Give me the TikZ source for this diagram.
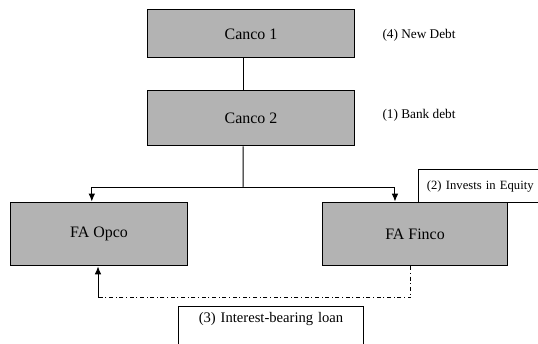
\documentclass[tikz,border=0pt]{standalone}
\usepackage{fontspec}
\setmainfont{Liberation Serif}
\usetikzlibrary{arrows.meta}
\begin{document}
\begin{tikzpicture}[line width=0.75pt]
  % Définir les couleurs et les styles
  \definecolor{boxgray}{RGB}{179,179,179}
  \tikzset{
    entity/.style={draw=black, fill=boxgray, font=\fontsize{12}{14}\selectfont},
    note/.style={font=\fontsize{10}{12}\selectfont, anchor=west, inner sep=0pt},
    flow/.style={-{Latex[length=6pt,width=5pt]}},
  }
  \useasboundingbox (0,0) rectangle (14.234,9.075);

  % Les deux sociétés Canco
  \node[entity, minimum width=5.50cm, minimum height=1.27cm] at (6.641,8.176) (canco1) {Canco 1};
  \node[entity, minimum width=5.50cm, minimum height=1.48cm] at (6.641,5.953) (canco2) {Canco 2};
  \node[note] at (10.107,8.149) (newdebt) {(4) New Debt};
  \node[note] at (10.107,6.032) (bankdebt) {(1) Bank debt};

  % Les deux filiales FA
  \node[entity, minimum width=4.66cm, minimum height=1.69cm] at (2.619,2.884) (opco) {FA Opco};
  \node[entity, minimum width=4.87cm, minimum height=1.69cm] at (10.980,2.884) (finco) {FA Finco};

  % Boîte de l'investissement en capital
  \node[draw=black, fill=white, anchor=west, minimum height=0.85cm, text width=3.5cm,
        inner xsep=0.22cm, align=left, font=\fontsize{9.5}{11}\selectfont]
        at (11.059,4.154) (equity) {(2)\hspace{0.35em}Invests in Equity};

  % Lien entre Canco 1 et Canco 2
  \draw ([xshift=-0.21cm]canco1.south) -- ([xshift=-0.21cm]canco2.north);

  % Branchement vers les filiales
  \coordinate (split) at (6.429,4.127);
  \draw ([xshift=-0.21cm]canco2.south) -- (split);
  \draw[flow] (split) -| ([xshift=-0.19cm]opco.north);
  \draw[flow] (split) -| ([xshift=-0.53cm]finco.north);

  % Le prêt de Finco vers Opco
  \coordinate (loanbend) at (2.593,1.191);
  \draw[dash dot] ([xshift=-0.11cm]finco.south) |- (loanbend);
  \draw[flow] (loanbend) -- (loanbend |- opco.south);

  % Boîte du prêt
  \node[draw=black, anchor=north, text width=4.87cm, inner xsep=0pt, align=center,
        text height=7pt, text depth=1cm, inner ysep=4.75pt, font=\fontsize{11}{13}\selectfont]
        at (7.170,0.979) (loan) {(3) Interest-bearing loan};
\end{tikzpicture}
\end{document}
